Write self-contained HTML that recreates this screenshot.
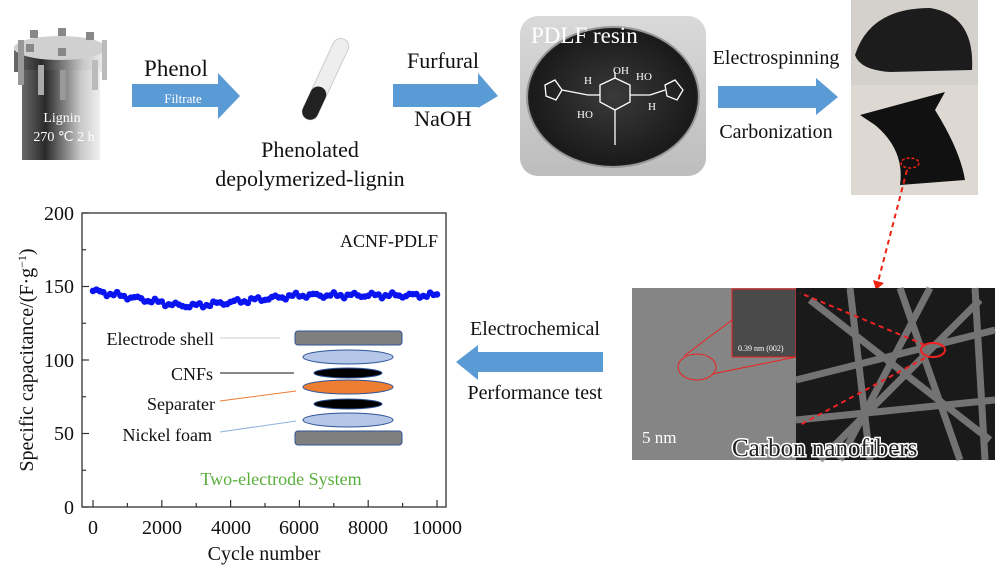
<!DOCTYPE html>
<html><head><meta charset="utf-8"><style>
html,body{margin:0;padding:0;background:#fff;}
svg{display:block;font-family:"Liberation Serif",serif;}
</style></head><body>
<svg id="s" width="1000" height="569" viewBox="0 0 1000 569" xmlns="http://www.w3.org/2000/svg">
<defs>
<linearGradient id="cyl" x1="0" x2="1" y1="0" y2="0">
<stop offset="0" stop-color="#6a6a6a"/><stop offset="0.3" stop-color="#2a2a2a"/><stop offset="0.75" stop-color="#c8c8c8"/><stop offset="1" stop-color="#f0f0f0"/></linearGradient>
<radialGradient id="dish" cx="0.5" cy="0.5" r="0.6"><stop offset="0" stop-color="#3a3a3a"/><stop offset="0.8" stop-color="#1a1a1a"/><stop offset="1" stop-color="#777"/></radialGradient>
<linearGradient id="bg1" x1="0" x2="0" y1="0" y2="1"><stop offset="0" stop-color="#d9d9d9"/><stop offset="1" stop-color="#bdbdbd"/></linearGradient>
</defs>
<!-- reactor -->
<rect x="14" y="50" width="92" height="22" fill="url(#cyl)"/>
<ellipse cx="60" cy="48" rx="46" ry="12" fill="#d0d0d0"/>
<rect x="22" y="70" width="78" height="90" fill="url(#cyl)"/>
<rect x="18" y="40" width="6" height="45" fill="#999"/><rect x="38" y="65" width="6" height="30" fill="#aaa"/><rect x="60" y="70" width="6" height="30" fill="#999"/><rect x="92" y="60" width="6" height="30" fill="#bbb"/><rect x="102" y="40" width="5" height="40" fill="#bbb"/>
<rect x="30" y="30" width="8" height="8" fill="#888"/><rect x="58" y="28" width="8" height="8" fill="#888"/><rect x="86" y="32" width="8" height="8" fill="#888"/><rect x="58" y="48" width="8" height="8" fill="#888"/><rect x="26" y="44" width="8" height="8" fill="#888"/>
<text x="62" y="122" font-size="14" fill="#fff" text-anchor="middle">Lignin</text>
<text x="64" y="141" font-size="14" fill="#fff" text-anchor="middle">270 ℃ 2 h</text>
<!-- arrow1 -->
<polygon points="132,84 218,84 218,73 240,96 218,119 218,107 132,107" fill="#5b9bd5"/>
<text x="176" y="76" font-size="23" text-anchor="middle" fill="#111">Phenol</text>
<text x="183" y="103" font-size="13" fill="#fff" text-anchor="middle">Filtrate</text>
<!-- test tube -->
<g transform="rotate(25 325 80)"><rect x="317" y="35" width="16" height="88" rx="8" fill="#eee" stroke="#ccc"/><rect x="317" y="88" width="16" height="35" rx="8" fill="#222"/></g>
<text x="310" y="157" font-size="22" text-anchor="middle" fill="#111">Phenolated</text>
<text x="310" y="186" font-size="22" text-anchor="middle" fill="#111">depolymerized-lignin</text>
<!-- arrow2 -->
<polygon points="393,84 478,84 478,73 498,96 478,108 478,107 393,107" fill="#5b9bd5"/>
<text x="443" y="68" font-size="22" text-anchor="middle" fill="#111">Furfural</text>
<text x="443" y="126" font-size="22" text-anchor="middle" fill="#111">NaOH</text>
<!-- dish -->
<rect x="520" y="16" width="186" height="160" rx="18" fill="url(#bg1)"/>
<ellipse cx="613" cy="97" rx="86" ry="70" fill="url(#dish)" stroke="#999" stroke-width="2"/>
<text x="531" y="43" font-size="23" fill="#fff">PDLF resin</text>
<g stroke="#fff" stroke-width="1.3" fill="none">
<polygon points="545,85 555,80 562,90 556,100 546,96"/><line x1="562" y1="90" x2="588" y2="95"/>
<polygon points="600,85 615,78 630,85 630,102 615,110 600,102"/><line x1="588" y1="95" x2="600" y2="95"/><line x1="630" y1="95" x2="650" y2="95"/>
<line x1="615" y1="78" x2="615" y2="72"/><line x1="615" y1="110" x2="615" y2="145"/>
<polygon points="665,85 675,80 683,90 677,100 667,96"/><line x1="650" y1="95" x2="665" y2="90"/>
</g>
<g font-size="11" fill="#fff"><text x="584" y="84">H</text><text x="577" y="118">HO</text><text x="613" y="74">OH</text><text x="636" y="80">HO</text><text x="648" y="110">H</text></g>
<!-- arrow3 -->
<text x="776" y="64" font-size="20" text-anchor="middle" fill="#111">Electrospinning</text>
<polygon points="718,86 816,86 816,78 838,97 816,115 816,108 718,108" fill="#5b9bd5"/>
<text x="776" y="138" font-size="20" text-anchor="middle" fill="#111">Carbonization</text>
<!-- photos -->
<rect x="851" y="0" width="127" height="85" fill="#d4d0cc"/>
<path d="M855,55 Q870,8 930,8 Q975,15 972,70 L890,72 Q860,70 855,55Z" fill="#1c1c1c"/>
<rect x="851" y="85" width="127" height="110" fill="#ddd8d2"/>
<path d="M860,115 L945,92 L935,110 Q960,150 965,180 L900,185 Q905,150 875,125Z" fill="#111"/>
<ellipse cx="910" cy="163" rx="9" ry="5" fill="none" stroke="#e21" stroke-dasharray="3,2" stroke-width="1.5"/>
<line x1="907" y1="170" x2="878" y2="282" stroke="#e21" stroke-width="2" stroke-dasharray="5,4"/>
<polygon points="873,280 884,283 876,290" fill="#e21"/>
<!-- TEM/SEM -->
<rect x="632" y="288" width="164" height="172" fill="#858585"/>
<rect x="732" y="289" width="64" height="68" fill="#4a4a4a" stroke="#e22" stroke-width="1"/>
<text x="738" y="351" font-size="8" fill="#fff">0.39 nm (002)</text>
<ellipse cx="697" cy="367" rx="19" ry="13" fill="none" stroke="#e22"/>
<line x1="684" y1="356" x2="732" y2="320" stroke="#e22"/>
<line x1="712" y1="374" x2="796" y2="357" stroke="#e22"/>
<text x="642" y="443" font-size="17" fill="#fff">5 nm</text>
<rect x="796" y="288" width="199" height="172" fill="#1a1a1a"/>
<g stroke="#8a8a8a" stroke-width="7" opacity="0.8">
<line x1="810" y1="300" x2="990" y2="440"/><line x1="820" y1="460" x2="980" y2="300"/><line x1="850" y1="288" x2="870" y2="460"/><line x1="900" y1="288" x2="960" y2="460"/><line x1="796" y1="380" x2="995" y2="330"/><line x1="930" y1="288" x2="840" y2="460"/><line x1="975" y1="288" x2="985" y2="460"/><line x1="796" y1="420" x2="995" y2="400"/>
</g>
<ellipse cx="933" cy="350" rx="12" ry="7" fill="none" stroke="#e22" stroke-width="2"/>
<line x1="925" y1="345" x2="800" y2="293" stroke="#e22" stroke-width="2" stroke-dasharray="5,4"/>
<line x1="925" y1="358" x2="800" y2="425" stroke="#e22" stroke-width="2" stroke-dasharray="5,4"/>
<text x="732" y="456" font-size="25" fill="#222" stroke="#fff" stroke-width="3" paint-order="stroke">Carbon nanofibers</text>
<!-- arrow4 -->
<text x="535" y="335" font-size="20" text-anchor="middle" fill="#111">Electrochemical</text>
<polygon points="603,352 478,352 478,345 456,362 478,380 478,372 603,372" fill="#5b9bd5"/>
<text x="535" y="399" font-size="20" text-anchor="middle" fill="#111">Performance test</text>
<!-- chart -->
<rect x="82" y="213" width="364" height="294" fill="none" stroke="#333" stroke-width="1.3"/>
<g id="ticks" stroke="#333" stroke-width="1.2"></g>
<g font-size="20" fill="#111" text-anchor="end">
<text x="74" y="220">200</text><text x="74" y="293">150</text><text x="74" y="367">100</text><text x="74" y="440">50</text><text x="74" y="514">0</text></g>
<g font-size="20" fill="#111" text-anchor="middle">
<text x="93" y="534">0</text><text x="162" y="534">2000</text><text x="231" y="534">4000</text><text x="299" y="534">6000</text><text x="368" y="534">8000</text><text x="437" y="534">10000</text></g>
<text x="264" y="560" font-size="20" text-anchor="middle" fill="#111">Cycle number</text>
<text transform="translate(33,360) rotate(-90)" font-size="20" text-anchor="middle" fill="#111">Specific capacitance/(F·g<tspan dy="-7" font-size="12">−1</tspan><tspan dy="7">)</tspan></text>
<text x="438" y="247" font-size="18" text-anchor="end" fill="#111">ACNF-PDLF</text>
<g id="dots" fill="#0a14f0"></g>
<!-- inset -->
<g stroke="#2f5597" stroke-width="1">
<rect x="295" y="331" width="107" height="14" rx="3" fill="#7f7f7f"/>
<ellipse cx="348" cy="357" rx="45" ry="7" fill="#b4c7e7"/>
<ellipse cx="348" cy="373" rx="34" ry="5" fill="#000"/>
<ellipse cx="348" cy="387" rx="45" ry="7" fill="#ed7d31"/>
<ellipse cx="348" cy="404" rx="34" ry="5" fill="#000"/>
<ellipse cx="348" cy="420" rx="45" ry="7" fill="#b4c7e7"/>
<rect x="295" y="431" width="107" height="14" rx="3" fill="#7f7f7f"/>
</g>
<line x1="280" y1="338" x2="220" y2="338" stroke="#ccc"/><text x="214" y="345" font-size="18" text-anchor="end" fill="#111">Electrode shell</text>
<line x1="294" y1="373" x2="220" y2="373" stroke="#111"/><text x="213" y="380" font-size="18" text-anchor="end" fill="#111">CNFs</text>
<line x1="296" y1="391" x2="220" y2="401" stroke="#ed7d31"/><text x="215" y="410" font-size="18" text-anchor="end" fill="#111">Separater</text>
<line x1="296" y1="421" x2="220" y2="432" stroke="#8fb0e0"/><text x="212" y="441" font-size="18" text-anchor="end" fill="#111">Nickel foam</text>
<text x="281" y="485" font-size="18" text-anchor="middle" fill="#5aaf3c">Two-electrode System</text>
</svg>
<script>
var NS="http://www.w3.org/2000/svg";
var t=document.getElementById("ticks"),d=document.getElementById("dots");
function L(a,b,c,e){var l=document.createElementNS(NS,"line");l.setAttribute("x1",a);l.setAttribute("y1",b);l.setAttribute("x2",c);l.setAttribute("y2",e);t.appendChild(l);}
for(var v=0;v<=200;v+=25){var y=507-v*1.47;L(82,y,v%50?86:89,y);}
for(var k=0;k<=10000;k+=1000){var x=93+k*0.0344;L(x,507,x,k%2000?503:500);}
function cap(k){var base;if(k<2500)base=147-10*k/2500;else if(k<3000)base=137;else if(k<6000)base=137+7*(k-3000)/3000;else base=144;return base+1.2*Math.sin(k*0.011)+0.8*Math.sin(k*0.029);}
for(var k=0;k<=10000;k+=100){var c=document.createElementNS(NS,"circle");c.setAttribute("cx",93+k*0.0344);c.setAttribute("cy",507-cap(k)*1.47);c.setAttribute("r",3.3);d.appendChild(c);}
</script>
</body></html>
